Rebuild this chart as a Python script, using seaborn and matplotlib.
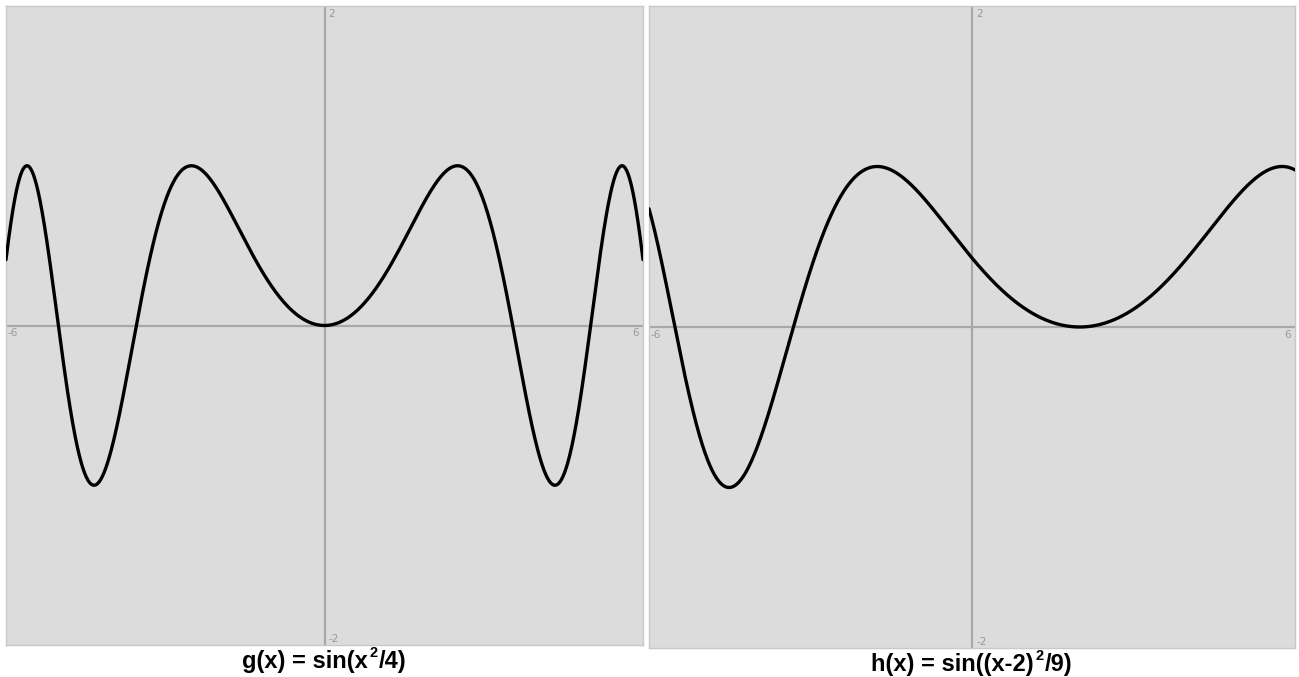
import numpy as np
import pandas as pd
import seaborn as sns
import matplotlib.pyplot as plt

# plotted functions, as given in the panel titles
x_vals = np.linspace(-6, 6, 1201)
g_vals = np.sin(x_vals ** 2 / 4)
h_vals = np.sin((x_vals - 2) ** 2 / 9)
# title pieces: text before the superscript, superscript, text after
title_parts = [("g(x) = sin(x", "2", "/4)"),
               ("h(x) = sin((x-2)", "2", "/9)")]
x_range = (-6, 6)
y_range = (-2, 2)

sns.set_theme(style="white")
plt.rcParams["font.family"] = ["Liberation Sans", "DejaVu Sans"]

df = pd.DataFrame({"x": np.concatenate([x_vals, x_vals]),
                   "y": np.concatenate([g_vals, h_vals]),
                   "fn": ["g"] * len(x_vals) + ["h"] * len(x_vals)})

W, H = 1299, 677
fig = plt.figure(figsize=(W / 100, H / 100), dpi=100)
# [left, bottom, width, height] in figure fractions
boxes = [[6 / W, 1 - 645 / H, 637 / W, 639 / H],
         [649 / W, 1 - 648 / H, 646 / W, 642 / H]]
title_base = [668 / H, 671 / H]  # baseline, from top

renderer = fig.canvas.get_renderer()


def draw_title(cx, base, parts):
    size = 17
    pieces = []
    for k, s in enumerate(parts):
        t = fig.text(0, 0, s, fontsize=size * (0.62 if k == 1 else 1),
                     fontweight="bold", va="baseline", ha="left",
                     color="black")
        pieces.append(t)
    widths = [p.get_window_extent(renderer).width for p in pieces]
    gap = 1.5
    total = sum(widths) + 2 * gap
    x = cx * W - total / 2
    y = (1 - base) * H
    for k, p in enumerate(pieces):
        dy = 11 if k == 1 else 0
        p.set_position((x / W, (y + dy) / H))
        x += widths[k] + gap


for i, fn in enumerate(["g", "h"]):
    ax = fig.add_axes(boxes[i])
    ax.set_facecolor("#dcdcdc")
    ax.axhline(0, color="#a8a8a8", lw=1.6, zorder=1)
    ax.axvline(0, color="#a8a8a8", lw=1.6, zorder=1)
    sns.lineplot(data=df[df["fn"] == fn], x="x", y="y", ax=ax,
                 color="black", lw=2.4, zorder=3)
    ax.set_xlim(*x_range)
    ax.set_ylim(*y_range)
    ax.set_xticks([])
    ax.set_yticks([])
    ax.set_xlabel("")
    ax.set_ylabel("")
    for s in ax.spines.values():
        s.set_color("#c8c8c8")
        s.set_linewidth(1)
    lab = dict(color="#999999", fontsize=7.5, family="DejaVu Sans")
    ax.annotate(str(x_range[0]), (x_range[0], 0), xytext=(1, -2),
                textcoords="offset points", ha="left", va="top", **lab)
    ax.annotate(str(x_range[1]), (x_range[1], 0), xytext=(-3, -2),
                textcoords="offset points", ha="right", va="top", **lab)
    ax.annotate(str(y_range[1]), (0, y_range[1]), xytext=(3, -2),
                textcoords="offset points", ha="left", va="top", **lab)
    ax.annotate(str(y_range[0]), (0, y_range[0]), xytext=(3, 1),
                textcoords="offset points", ha="left", va="bottom", **lab)
    draw_title(boxes[i][0] + boxes[i][2] / 2, title_base[i], title_parts[i])

fig.savefig("out.png", dpi=100)
